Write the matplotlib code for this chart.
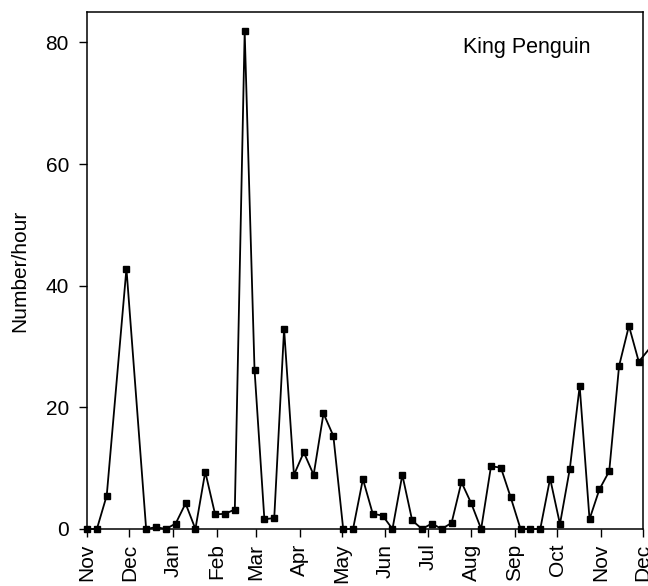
import numpy as np
import matplotlib
matplotlib.use("Agg")
import matplotlib.pyplot as plt

plt.rcParams['font.family'] = ['Liberation Sans', 'DejaVu Sans']

# weekly counts, weeks counted from 1 Nov (weeks 3 and 5 have no data)
weeks = [0, 1, 2, 4, 6, 7, 8, 9, 10, 11, 12, 13, 14, 15, 16, 17, 18, 19, 20,
         21, 22, 23, 24, 25, 26, 27, 28, 29, 30, 31, 32, 33, 34, 35, 36, 37,
         38, 39, 40, 41, 42, 43, 44, 45, 46, 47, 48, 49, 50, 51, 52, 53, 54,
         55, 56, 57]
rate = [0, 0, 5.5, 42.8, 0, 0.3, 0, 0.9, 4.2, 0, 9.4, 2.4, 2.5, 3.2, 81.8,
        26.2, 1.6, 1.8, 32.9, 8.9, 12.6, 8.9, 19.0, 15.3, 0, 0, 8.2, 2.5, 2.2,
        0, 8.9, 1.4, 0, 0.9, 0, 1.0, 7.7, 4.2, 0, 10.3, 10.1, 5.2, 0, 0, 0,
        8.3, 0.8, 9.9, 23.5, 1.6, 6.5, 9.5, 26.8, 33.4, 27.5, 29.5]

months = ['Nov', 'Dec', 'Jan', 'Feb', 'Mar', 'Apr', 'May', 'Jun', 'Jul',
          'Aug', 'Sep', 'Oct', 'Nov', 'Dec']
month_days = [30, 31, 31, 28, 31, 30, 31, 30, 31, 31, 30, 31, 30]

days = np.array(weeks) * 7
rate = np.array(rate)
month_start = np.concatenate([[0], np.cumsum(month_days)])

fig = plt.figure(figsize=(6.48, 5.86), dpi=100)
ax = fig.add_axes([0.1343, 0.0973, 0.858, 0.8822])

ax.plot(days[:-1], rate[:-1], color='black', lw=1.3, marker='s', ms=4.3,
        clip_on=False, zorder=3)
# last week runs off the right edge
ax.plot(days[-2:], rate[-2:], color='black', lw=1.3, clip_on=False, zorder=3)

ax.set_xlim(0, month_start[-1])
ax.set_ylim(0, 85)
ax.set_yticks([0, 20, 40, 60, 80])
ax.set_xticks(month_start)
ax.set_xticklabels(months, rotation=90)
ax.tick_params(direction='out', length=6, width=1, labelsize=15, pad=7)
ax.tick_params(axis='x', pad=4.5)
ax.set_ylabel('Number/hour', fontsize=15, labelpad=12)
for s in ax.spines.values():
    s.set_linewidth(1.1)

ax.text(0.79, 0.932, 'King Penguin', transform=ax.transAxes, fontsize=15.5,
        ha='center', va='center')

fig.savefig('out.png', dpi=100)
